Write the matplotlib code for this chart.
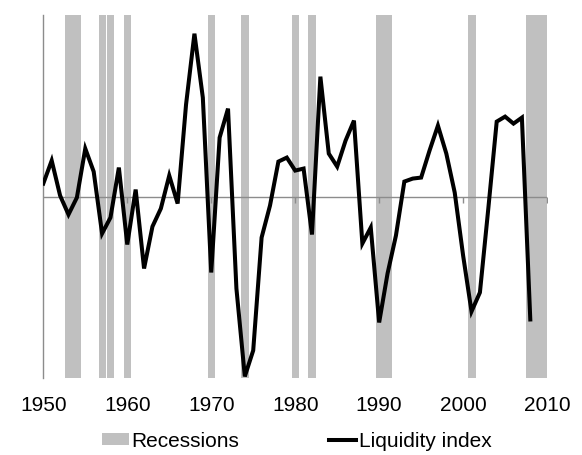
import numpy as np
import matplotlib
matplotlib.use("Agg")
import matplotlib.pyplot as plt
from matplotlib import markers
from matplotlib.patches import Patch
from matplotlib.lines import Line2D

# ── data ────────────────────────────────────────────────────────────────────
years = list(range(1950, 2009))
liquidity = [
    0.13, 0.36, 0.01, -0.18, -0.01, 0.48, 0.25, -0.37, -0.21, 0.29,   # 1950-59
    -0.48, 0.07, -0.72, -0.30, -0.12, 0.21, -0.07, 0.92, 1.63, 0.99,  # 1960-69
    -0.76, 0.59, 0.88, -0.92, -1.80, -1.54, -0.41, -0.09, 0.35, 0.39, # 1970-79
    0.26, 0.28, -0.38, 1.20, 0.43, 0.30, 0.56, 0.76, -0.47, -0.31,    # 1980-89
    -1.26, -0.77, -0.39, 0.15, 0.18, 0.19, 0.46, 0.71, 0.43, 0.04,    # 1990-99
    -0.59, -1.15, -0.96, -0.12, 0.75, 0.80, 0.73, 0.79, -1.23,        # 2000-08
]
rec_start = [1952.6, 1956.6, 1957.55, 1959.6, 1969.6, 1973.6, 1979.6,
             1981.55, 1989.6, 2000.55, 2007.45]
rec_end = [1954.5, 1957.45, 1958.45, 1960.5, 1970.5, 1974.45, 1980.5,
           1982.45, 1991.5, 2001.5, 2010.0]
xticks = [1950, 1960, 1970, 1980, 1990, 2000, 2010]

GREY = "#c0c0c0"
AXIS = "#8c8c8c"
FS = 15
LW = 2.9

plt.rcParams["font.family"] = ["Liberation Sans", "DejaVu Sans"]

fig = plt.figure(figsize=(5.82, 4.56), dpi=100)
ax = fig.add_axes([0.0744, 0.169, 0.8656, 0.7966])

for s, e in zip(rec_start, rec_end):
    ax.axvspan(s, e, color=GREY, lw=0, zorder=1)

ax.axhline(0, color=AXIS, lw=1, zorder=2)
ax.plot(xticks[1:], [0] * (len(xticks) - 1), ls="none",
        marker=markers.TICKDOWN, ms=4, mew=1, color=AXIS, zorder=2)
ax.plot(years, liquidity, color="black", lw=LW, zorder=3,
        solid_joinstyle="miter")

ax.set_xlim(1950, 2010)
ax.set_ylim(-1.815, 1.82)
ax.set_xticks(xticks)
ax.set_yticks([])
ax.tick_params(axis="x", length=0, pad=12, labelsize=FS)

for side in ("top", "right", "bottom"):
    ax.spines[side].set_visible(False)
ax.spines["left"].set_color(AXIS)
ax.spines["left"].set_linewidth(1)

handles = [Patch(facecolor=GREY, edgecolor="none"),
           Line2D([], [], color="black", lw=LW)]
fig.legend(handles, ["Recessions", "Liquidity index"], loc="center",
           bbox_to_anchor=(0.51, 0.031), ncol=2, frameon=False,
           fontsize=FS, handlelength=1.3, handletextpad=0.15,
           columnspacing=4.3, handleheight=0.5, borderpad=0)

fig.savefig("out.png", dpi=100)
